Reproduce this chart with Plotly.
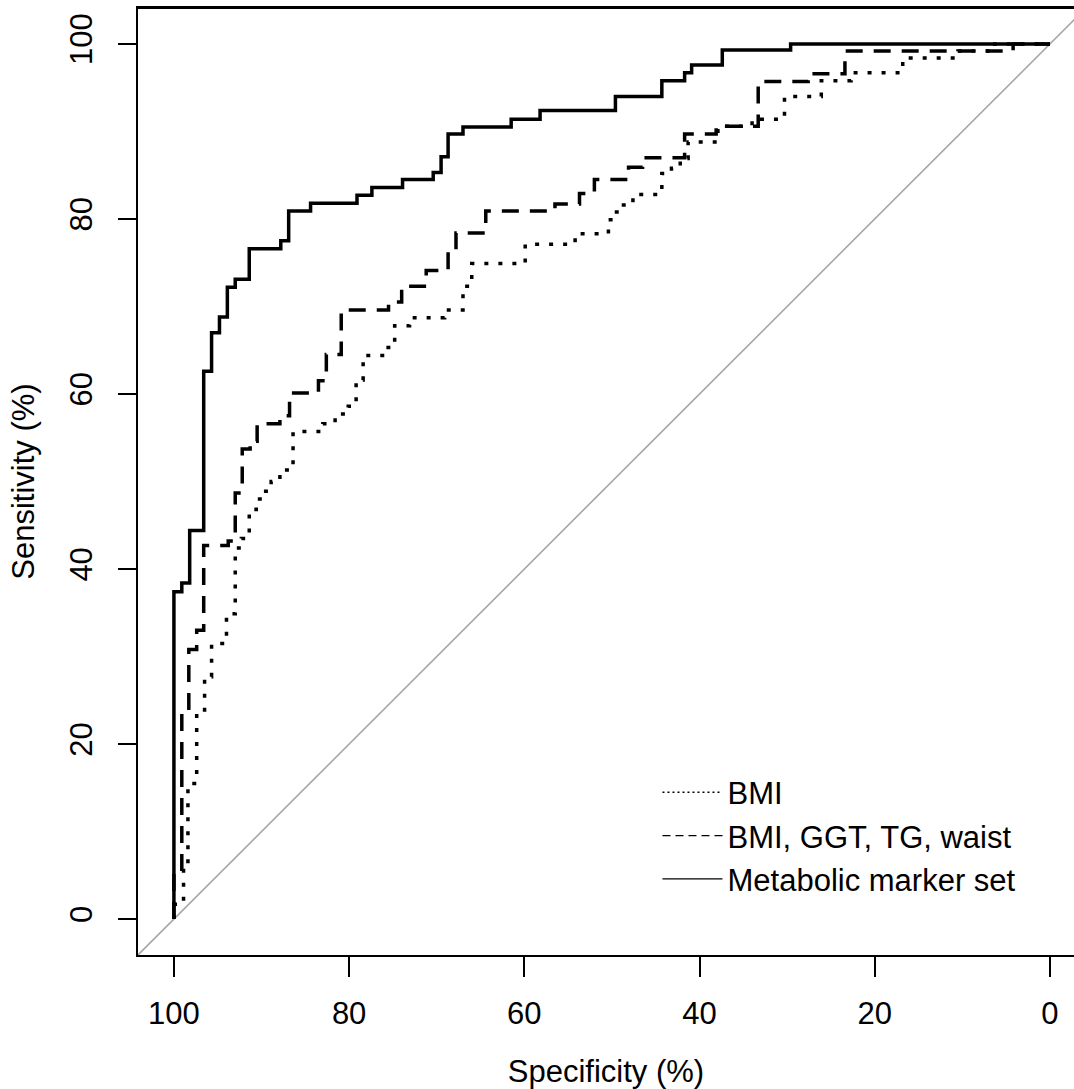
import plotly.graph_objects as go

# ---- data (step-function corner points, "vh" order: vertical then horizontal) ----
bmi_spec = [100, 98.9, 98.4, 97.4, 96.5, 95.7, 94.0, 93.0, 92.3, 91.4, 90.6, 89.8, 88.9, 87.9,
            86.4, 83.0, 81.6, 80.1, 79.2, 78.4, 75.9, 74.8, 73.1, 69.1, 67.0, 66.0, 59.9, 54.2,
            50.4, 49.9, 48.9, 47.6, 44.3, 43.2, 42.2, 41.3, 37.9, 34.0, 30.3, 26.1, 22.7, 16.8,
            10.5, 6.3, 4.2, 0]
bmi_sens = [0, 1.7, 6.2, 15.5, 23.5, 27.7, 31.5, 34.9, 42.4, 43.5, 46.8, 48.0, 48.9, 50.0,
            51.3, 55.7, 56.6, 57.7, 58.6, 61.6, 64.4, 65.3, 67.8, 68.7, 69.6, 72.3, 74.9, 77.1,
            78.3, 79.9, 80.8, 81.6, 82.8, 85.2, 85.8, 86.9, 88.8, 90.6, 91.4, 94.0, 95.8, 96.7,
            98.4, 99.2, 100, 100]

combo_spec = [100, 99.1, 98.3, 97.4, 96.6, 93.8, 93.0, 92.2, 91.3, 90.5, 87.9, 86.8, 83.5,
              82.6, 80.9, 75.5, 74.0, 71.2, 68.7, 67.8, 64.4, 56.5, 53.7, 52.0, 48.1, 46.5,
              41.7, 38.1, 33.3, 27.6, 23.4, 4.2, 0]
combo_sens = [0, 5.2, 23.5, 30.8, 33.0, 42.7, 43.2, 48.7, 53.7, 54.6, 56.6, 57.5, 60.1,
              61.5, 64.5, 69.6, 70.5, 72.3, 74.1, 76.5, 78.4, 80.9, 81.7, 82.9, 84.5, 85.9,
              87.0, 89.7, 90.6, 95.7, 96.6, 99.2, 100]

meta_spec = [100, 99.1, 98.2, 96.6, 95.7, 94.8, 93.9, 93.0, 91.4, 87.8, 86.9, 84.4, 79.1,
             77.4, 73.9, 70.4, 69.5, 68.7, 67.0, 61.5, 58.2, 49.6, 44.3, 41.7, 40.9, 37.4,
             29.6, 0]
meta_sens = [0, 37.4, 38.4, 44.4, 62.6, 67.0, 68.8, 72.2, 73.1, 76.6, 77.5, 80.9, 81.8,
             82.7, 83.6, 84.5, 85.3, 87.1, 89.7, 90.5, 91.4, 92.4, 94.0, 95.8, 96.7, 97.6,
             99.3, 100]

series_names = ["BMI", "BMI, GGT, TG, waist", "Metabolic marker set"]
tick_vals = [0, 20, 40, 60, 80, 100]
diag_spec = [110, -10]

FONT = "Liberation Sans, Arial, sans-serif"

fig = go.Figure()

# chance diagonal
fig.add_trace(go.Scatter(x=diag_spec, y=[100 - v for v in diag_spec], mode="lines",
                         line=dict(color="#A6A6A6", width=1.6), showlegend=False,
                         hoverinfo="skip"))

curves = [
    (bmi_spec, bmi_sens, "4px,10px", "2px,3px"),
    (combo_spec, combo_sens, "17px,11px", "8px,5px"),
    (meta_spec, meta_sens, "solid", "solid"),
]
for (xs, ys, dash, ldash), name in zip(curves, series_names):
    fig.add_trace(go.Scatter(x=xs, y=ys, mode="lines", line_shape="vh",
                             line=dict(color="black", width=3.5, dash=dash),
                             name=name, showlegend=False))
    # thin legend sample (like the reference)
    fig.add_trace(go.Scatter(x=[None], y=[None], mode="lines",
                             line=dict(color="black", width=1.3, dash=ldash),
                             name=name, showlegend=True))

fig.update_layout(
    width=1074, height=1089,
    margin=dict(l=138, r=0, t=8, b=134),
    paper_bgcolor="white", plot_bgcolor="white",
    font=dict(family=FONT, size=31, color="black"),
    showlegend=True,
    legend=dict(x=0.555, y=0.2, xanchor="left", yanchor="top",
                bgcolor="rgba(0,0,0,0)", borderwidth=0,
                font=dict(size=31), itemwidth=60, tracegroupgap=0),
    xaxis=dict(range=[104.1, -2.75], tickvals=tick_vals, ticks="outside", ticklen=20,
               tickwidth=1.5, tickcolor="black", showline=True, linecolor="black",
               linewidth=1.8, mirror=True, showgrid=False, zeroline=False,
               tickfont=dict(size=31), ticklabelstandoff=10,
               title=dict(text="Specificity (%)", font=dict(size=31), standoff=30)),
    yaxis=dict(range=[-4.1, 104.1], tickvals=tick_vals, ticks="outside", ticklen=18,
               tickwidth=1.5, tickcolor="black", showline=True, linecolor="black",
               linewidth=1.8, mirror=False, showgrid=False, zeroline=False,
               tickangle=-90, tickfont=dict(size=31), ticklabelstandoff=14,
               title=dict(text="Sensitivity (%)", font=dict(size=31), standoff=20)),
)
# top border of the box (R's box() - right edge lies outside the image)
fig.add_shape(type="line", xref="paper", yref="paper", x0=0, x1=1, y0=1, y1=1,
              line=dict(color="black", width=1.8))

fig.write_html("out.html", config={"displayModeBar": False},
               post_script="document.body.style.margin='0';")
